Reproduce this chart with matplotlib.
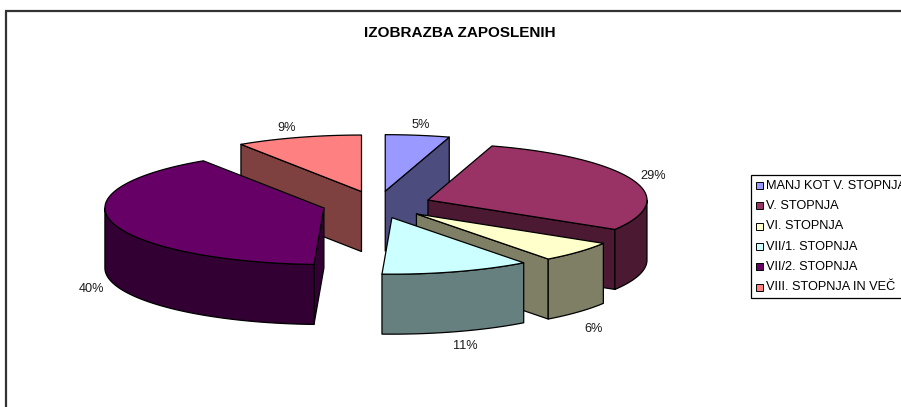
import numpy as np
import matplotlib
matplotlib.use("Agg")
import matplotlib.pyplot as plt
from matplotlib.patches import Polygon, Rectangle

title = "IZOBRAZBA ZAPOSLENIH"
categories = ["MANJ KOT V. STOPNJA", "V. STOPNJA", "VI. STOPNJA",
              "VII/1. STOPNJA", "VII/2. STOPNJA", "VIII. STOPNJA IN VEČ"]
values = [5, 29, 6, 11, 40, 9]
labels = ["5%", "29%", "6%", "11%", "40%", "9%"]
colors = ["#9999FF", "#993366", "#FFFFCC", "#CCFFFF", "#660066", "#FF8080"]
sides = ["#4C4C7F", "#4C1933", "#7F7F66", "#667F7F", "#330033", "#7F4040"]
draw_order = [0, 5, 1, 2, 4, 3]

plt.rcParams["font.family"] = ["Liberation Sans", "DejaVu Sans"]
W, H = 901, 407
fig = plt.figure(figsize=(W / 100, H / 100), dpi=100)
ax = fig.add_axes([0, 0, 1, 1])
ax.set_xlim(0, W)
ax.set_ylim(H, 0)
ax.axis("off")

CX, CY, A, B, DEPTH = 376.7, 204.6, 219, 56.5, 60
EX, EY = 54.5, 13.6
EC = "black"
LW = 0.9
ROT = np.radians(1.0)

cum = np.cumsum([0] + values) / sum(values) * 2 * np.pi
edges = cum - ROT
edges[0], edges[-1] = cum[0], cum[-1]


def rim(o, t):
    return np.column_stack([o[0] + A * np.sin(t), o[1] - B * np.cos(t)])


def add(pts, fc, z):
    ax.add_patch(Polygon(pts, closed=True, fc=fc, ec=EC, lw=LW, zorder=z, joinstyle="round"))


down = np.array([0, DEPTH])
for rank, i in enumerate(draw_order):
    t0, t1 = edges[i], edges[i + 1]
    mid = (cum[i] + cum[i + 1]) / 2
    o = np.array([CX + EX * np.sin(mid), CY - EY * np.cos(mid)])
    z = 2 + rank
    # radial walls facing the viewer
    if np.sin(t0) < 0:
        e = rim(o, np.array([t0]))[0]
        add([o, e, e + down, o + down], sides[i], z)
    if np.sin(t1) > 0:
        e = rim(o, np.array([t1]))[0]
        add([o, e, e + down, o + down], sides[i], z)
    # outer wall: only the front half of the rim
    a0, a1 = max(t0, np.pi / 2), min(t1, 3 * np.pi / 2)
    if a1 > a0:
        arc = rim(o, np.linspace(a0, a1, 80))
        add(np.vstack([arc, (arc + down)[::-1]]), sides[i], z)
    # top face
    top = rim(o, np.linspace(t0, t1, 120))
    add(np.vstack([o, top]), colors[i], z)

# data labels, placed radially outside each slice, with small per-label nudges
LAB_A, LAB_B = 237, 70
NUDGE_X = [-2, 2, 4, 7, -3, -9]
NUDGE_Y = [3, 0, 7, 1, 4, 4]
for i, lab in enumerate(labels):
    mid = (cum[i] + cum[i + 1]) / 2
    ox, oy = CX + EX * np.sin(mid), CY - EY * np.cos(mid)
    c = np.cos(mid)
    extra = DEPTH if c < 0 else 0
    ax.text(ox + LAB_A * np.sin(mid) + NUDGE_X[i], oy - LAB_B * c + extra + NUDGE_Y[i], lab,
            fontsize=9.2, ha="center", va="center", color="#1a1a1a", zorder=20)

ax.text(460, 33, title, fontsize=11, fontweight="bold", ha="center", va="center", color="black")

# chart frame (runs off the right and bottom of the picture)
ax.plot([5.5, 5.5], [H + 2, 11], color="#333333", lw=1.6, solid_capstyle="butt", zorder=30)
ax.plot([5, W + 2], [10.9, 10.9], color="#333333", lw=1.6, solid_capstyle="butt", zorder=30)

# legend
LX, LY0, LH = 751, 175, 20.35
ax.add_patch(Rectangle((LX, LY0), W + 10 - LX, 122.5, fc="white", ec="black", lw=0.9, zorder=21))
for i, cat in enumerate(categories):
    y = LY0 + 10.5 + i * LH
    ax.add_patch(Rectangle((756, y - 3.5), 7, 7, fc=colors[i], ec="black", lw=0.7, zorder=22))
    ax.text(766, y + 0.2, cat, fontsize=9.2, ha="left", va="center", color="black", zorder=22,
            clip_on=True)

fig.savefig("out.png", dpi=100)
